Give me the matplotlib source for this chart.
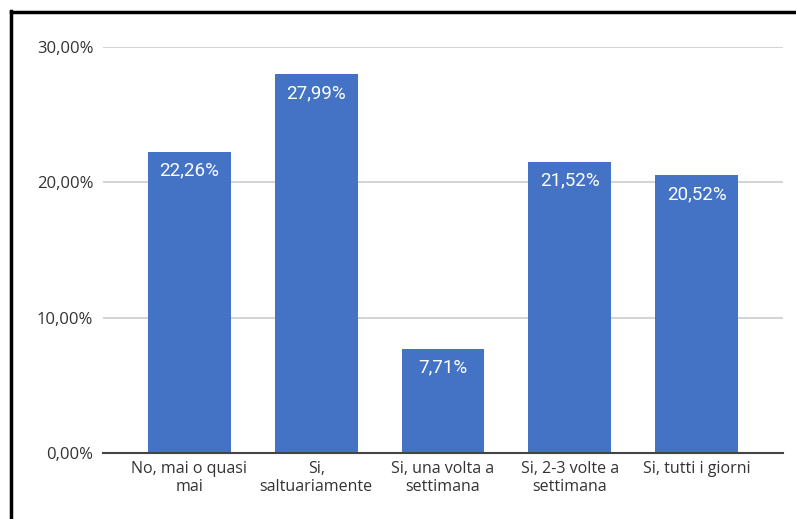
import matplotlib.pyplot as plt
from matplotlib.lines import Line2D
from matplotlib.ticker import FuncFormatter

categories = ['No, mai o quasi\nmai', 'Si,\nsaltuariamente', 'Si, una volta a\nsettimana',
              'Si, 2-3 volte a\nsettimana', 'Si, tutti i giorni']
values = [22.26, 27.99, 7.71, 21.52, 20.52]
yticks = [0, 10, 20, 30]

bar_color = '#4472C4'

fig = plt.figure(figsize=(7.96, 5.19), dpi=100)
W, H = 796, 519
ax = fig.add_axes([103 / W, 1 - 453 / H, 680 / W, (453 - 47) / H])

x = range(len(categories))
bars = ax.bar(x, values, width=0.654, color=bar_color, zorder=3)

def pct(v):
    return f'{v:.2f}'.replace('.', ',') + '%'

for xi, v in zip(x, values):
    ax.annotate(pct(v), xy=(xi, v), xytext=(0, -7), textcoords='offset points',
                ha='center', va='top', color='white', fontsize=13.5, family='Roboto', zorder=4)

ax.set_xlim(-0.68, 4.68)
ax.set_ylim(0, 30)
ax.set_yticks(yticks)
ax.yaxis.set_major_formatter(FuncFormatter(lambda v, p: pct(v)))
ax.set_xticks(list(x))
ax.set_xticklabels(categories, fontsize=11.5, family='Open Sans', color='#333333', linespacing=1.1)
ax.tick_params(axis='y', length=0, pad=7, labelsize=12, labelcolor='#333333')
ax.tick_params(axis='x', length=0, pad=6)
for lab in ax.get_yticklabels():
    lab.set_family('Open Sans')

ax.grid(axis='y', color='#cccccc', linewidth=1.2, zorder=0)
for s in ['top', 'right', 'left']:
    ax.spines[s].set_visible(False)
ax.spines['bottom'].set_color('#444444')
ax.spines['bottom'].set_linewidth(1.5)
ax.spines['bottom'].set_zorder(5)

# frame edges along the left and top
fig.add_artist(Line2D([11 / W, 11 / W], [0, 1 - 11 / H], color='black', linewidth=2.5,
                      transform=fig.transFigure))
fig.add_artist(Line2D([11 / W, 1], [1 - 12 / H, 1 - 12 / H], color='black', linewidth=2.5,
                      transform=fig.transFigure))

plt.savefig('out.png', dpi=100)
